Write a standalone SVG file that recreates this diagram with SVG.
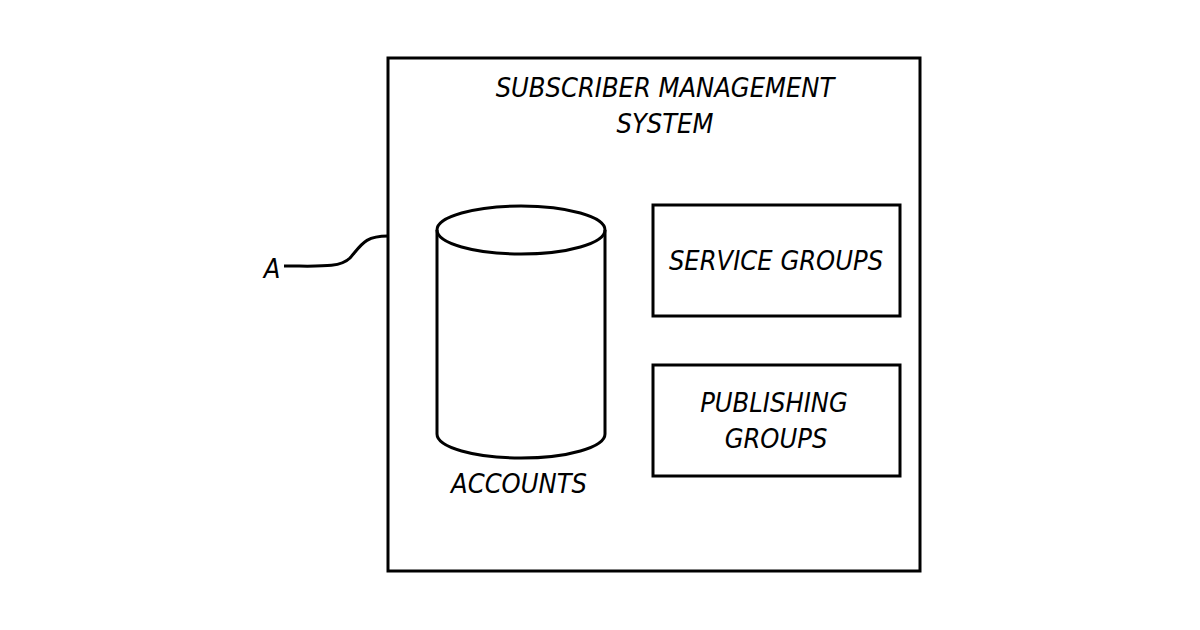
<svg xmlns="http://www.w3.org/2000/svg" width="1200" height="630" viewBox="0 0 1200 630">
<style>
.s{fill:none;stroke:#000;stroke-width:3}
text{font-family:"DejaVu Sans Condensed","Liberation Sans",sans-serif;font-style:italic;font-size:27px;fill:#000;text-anchor:middle}
</style>
<rect width="1200" height="630" fill="#fff"/>
<g id="sms"><rect class="s" x="388" y="58" width="532" height="513"/>
<text x="665" y="97">SUBSCRIBER MANAGEMENT</text><text x="665" y="133">SYSTEM</text></g>
<g id="accounts"><path class="s" d="M437 230 V434 A84 24 0 0 0 605 434 V230"/><ellipse class="s" cx="521" cy="230" rx="84" ry="24"/>
<text x="519" y="493">ACCOUNTS</text></g>
<g id="service"><rect class="s" x="653" y="205" width="247" height="111"/><text x="776" y="270">SERVICE GROUPS</text></g>
<g id="publishing"><rect class="s" x="653" y="365" width="247" height="111"/><text x="774" y="412">PUBLISHING</text><text x="776" y="448">GROUPS</text></g>
<g id="connectors"><path class="s" d="M284 266 C320 266 340 268 350 258 C362 244 365 236 388 236"/></g>
<text x="272" y="278">A</text>
</svg>
